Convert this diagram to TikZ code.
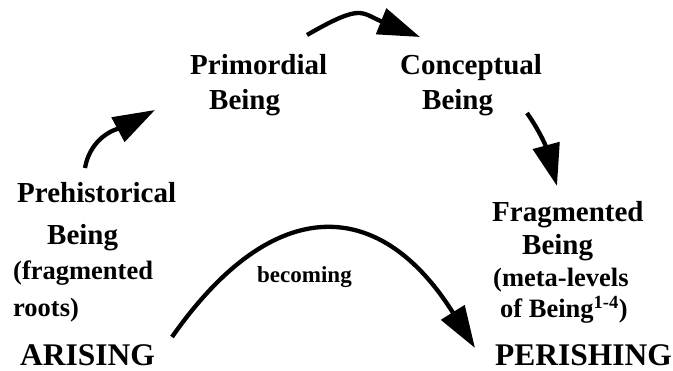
\documentclass[tikz,border=0pt]{standalone}
\usepackage{fontspec}
\setmainfont{Liberation Serif}
\usetikzlibrary{arrows.meta}
\begin{document}
\begin{tikzpicture}[x=1pt,y=1pt,
  lbl/.style={font=\bfseries\fontsize{29}{29}\selectfont, inner sep=0pt, anchor=base west},
  bigl/.style={font=\bfseries\fontsize{31.5}{31.5}\selectfont, inner sep=0pt, anchor=base west},
  parl/.style={font=\bfseries\fontsize{26.5}{26.5}\selectfont, inner sep=0pt, anchor=base west},
  smalll/.style={font=\bfseries\fontsize{23}{23}\selectfont, inner sep=0pt, anchor=base west},
  arr/.style={line width=4.3pt, -{Triangle[length=42pt,width=27pt]}}]
\useasboundingbox (0,0) rectangle (673,371);
% left column
\node[lbl]  (pre)   at (17,168) {Prehistorical};
\node[lbl]  (preb)  at (47,126) {Being};
\node[parl] (frag)  at (13,91)  {(fragmented};
\node[parl] (roots) at (13,54)  {roots)};
\node[bigl] (aris)  at (20,5)   {ARISING};
% top
\node[lbl]  (prim)  at (190,296) {Primordial};
\node[lbl]  (primb) at (209,261) {Being};
\node[lbl]  (conc)  at (400,296) {Conceptual};
\node[lbl]  (concb) at (422,261) {Being};
% right column
\node[lbl]  (fr)    at (492,149) {Fragmented};
\node[lbl]  (frb)   at (522,116) {Being};
\node[parl] (meta)  at (493,84)  {(meta-levels};
\node[parl] (ofb)   at (500,53)  {of Being\textsuperscript{1-4})};
\node[bigl] (per)   at (495,5)   {PERISHING};
\node[smalll] (bec) at (257,88)  {becoming};
% arrow end points
\coordinate (a1s) at (85,203);
\coordinate (a1e) at (155,261);
\coordinate (a2s) at (307,336);
\coordinate (a2e) at (420,334);
\coordinate (a3s) at (527,258);
\coordinate (a3e) at (557,185);
\coordinate (a4s) at (172,34);
\coordinate (a4e) at (475,23);
\draw[arr] (a1s) to[out=80,in=208] (a1e);
\draw[arr] (a2s) to[out=30,in=158,looseness=1.45] (a2e);
\draw[arr] (a3s) to[out=-55,in=105] (a3e);
\draw[arr] (a4s) to[out=55,in=122,looseness=1.5] (a4e);
\end{tikzpicture}
\end{document}
